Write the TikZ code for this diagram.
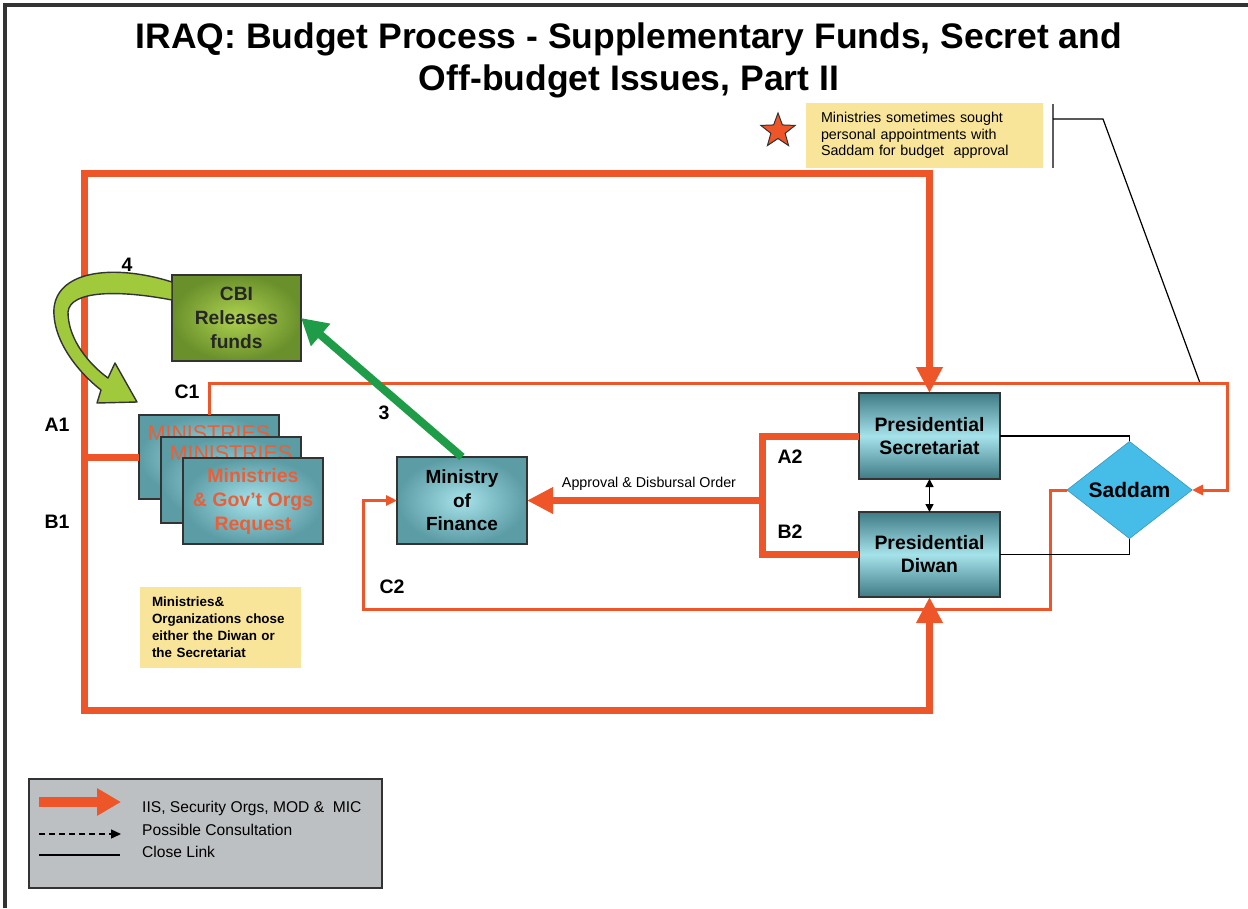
\documentclass[tikz,border=0pt]{standalone}
\usepackage{fontspec}
\setmainfont{Liberation Sans}
\usetikzlibrary{arrows.meta,shapes.geometric}
\definecolor{org}{HTML}{EE5528}
\definecolor{orgtxt}{HTML}{E8603A}
\definecolor{grn}{HTML}{1F9C48}
\definecolor{notey}{HTML}{F8E59A}
\definecolor{tealL}{HTML}{A6E2EA}
\definecolor{tealD}{HTML}{3F7B85}
\definecolor{tealM}{HTML}{5C9CA5}
\definecolor{cyanD}{HTML}{45BDE8}
\definecolor{legg}{HTML}{BDC0C2}
\definecolor{framec}{HTML}{333333}
\definecolor{cbiL}{HTML}{AED24F}
\definecolor{cbiD}{HTML}{6A902C}
\definecolor{curvg}{HTML}{A0CA3C}
\begin{document}
\begin{tikzpicture}[x=1pt,y=-1pt,
  box/.style={draw=framec, line width=1.2pt, inner sep=0pt, outer sep=0pt, align=center},
  tealbox/.style={box, inner color=tealL, outer color=tealM},
  presbox/.style={box, top color=tealD, bottom color=tealD, middle color=tealL,
     minimum width=141pt, minimum height=86pt, font=\bfseries\fontsize{19.4}{23}\selectfont},
  minbox/.style={tealbox, minimum width=140pt, minimum height=86pt},
  thickorg/.style={draw=org, line width=7pt},
  thinorg/.style={draw=org, line width=3pt},
  bigtip/.style={-{Triangle[length=26pt,width=25pt]}},
  smalltip/.style={-{Triangle[length=11pt,width=10pt]}},
  closelink/.style={draw=black, line width=1.2pt},
  lbl/.style={font=\bfseries\fontsize{19.5}{22}\selectfont, inner sep=0pt},
  legtxt/.style={font=\fontsize{15.6}{19}\selectfont, anchor=west, inner sep=0pt},
  notebox/.style={fill=notey, inner sep=0pt, align=left}
]
\fill[white] (0,0) rectangle (1248,908);
\useasboundingbox (0,0) rectangle (1248,908);
% frame
\draw[framec, line width=3.5pt] (5,908) -- (5,5) -- (1248,5);

% title
\node[font=\bfseries\fontsize{35.5}{42}\selectfont, align=center, inner sep=0pt] (title) at (629,60)
  {IRAQ: Budget Process - Supplementary Funds, Secret and\\Off-budget Issues, Part II};

% star and note
\node[star, star points=5, star point ratio=2.4, fill=org, draw=framec, line width=1pt,
  minimum size=36pt, inner sep=0pt] (star) at (778,131) {};
\node[notebox, minimum width=237pt, minimum height=65pt, text width=207pt,
  font=\fontsize{14.3}{16.5}\selectfont] (note1) at (924.5,135.5)
  {Ministries sometimes sought\\personal appointments with\\Saddam for budget\ \ approval};
\coordinate (brT) at (1053,104);
\coordinate (brB) at (1053,168);
\coordinate (brM) at (1053,119);
\coordinate (brK) at (1103,119);
\coordinate (brE) at (1200,383);
\draw[draw=framec!80, line width=2pt] (brT) -- (brB);
\draw[closelink] (brM) -- (brK) -- (brE);

% nodes
\node[box, minimum width=129pt, minimum height=86pt, inner color=cbiL, outer color=cbiD,
  font=\bfseries\fontsize{19.2}{24}\selectfont, text=black!85] (cbi) at (236.5,318) {CBI\\Releases\\funds};
\node[minbox, minimum height=84pt] (m1) at (209,457) {};
\node[font=\fontsize{21.4}{24}\selectfont, text=orgtxt, inner sep=0pt] (m1t) at (209,433) {MINISTRIES};
\node[minbox] (m2) at (231,480) {};
\node[font=\fontsize{21.4}{24}\selectfont, text=orgtxt, inner sep=0pt] (m2t) at (231,453) {MINISTRIES};
\node[minbox, font=\bfseries\fontsize{19.5}{24}\selectfont, text=orgtxt] (m3) at (253,501)
  {Ministries\\\& Gov't Orgs\\Request};
\node[tealbox, minimum width=130pt, minimum height=87pt, font=\bfseries\fontsize{19}{23.5}\selectfont]
  (mof) at (462,500.5) {Ministry\\of\\Finance};
\node[presbox] (sec) at (929.5,436) {Presidential\\Secretariat};
\node[presbox, minimum height=85pt] (diw) at (929.5,554.5) {Presidential\\Diwan};
\node[diamond, fill=cyanD, draw=cyanD!80!black, line width=0.6pt, minimum width=125pt, minimum height=89pt,
  inner sep=0pt, outer sep=0pt, font=\bfseries\fontsize{21}{24}\selectfont] (sad) at (1129.5,490) {Saddam};

\node[notebox, minimum width=161pt, minimum height=81pt, text width=137pt,
  font=\bfseries\fontsize{13.4}{17}\selectfont] (note2) at (220.5,627.5)
  {Ministries\&\\Organizations chose\\either the Diwan or\\the Secretariat};

% thick orange routes A1 / B1
\coordinate (jA) at (84,457);
\coordinate (jT) at (84,173);
\coordinate (jD) at (84,710);
\draw[thickorg, bigtip] (m1.west) -- (jA) -- (jT) -| (sec.north);
\draw[thickorg, bigtip] (m1.west) -- (jA) -- (jD) -| (diw.south);

% A2 / B2 to Ministry of Finance
\coordinate (jS) at (762,436);
\coordinate (jW) at (762,554.5);
\coordinate (jB) at (762,500.5);
\draw[thickorg] (sec.west) -- (jS) -- (jW) -- (diw.west);
\draw[thickorg, bigtip] (jB) -- (mof.east);
\node[font=\fontsize{14.3}{16}\selectfont, inner sep=0pt] (apl) at (649,484) {Approval \& Disbursal Order};

% C1 / C2
\coordinate (c1a) at (209,383);
\coordinate (c1b) at (1227,383);
\draw[thinorg, smalltip] (m1.north) -- (c1a) -- (c1b) |- (sad.east);
\coordinate (c2a) at (1050,490);
\coordinate (c2b) at (1050,609);
\coordinate (c2c) at (363,609);
\draw[thinorg, smalltip] (sad.west) -- (c2a) -- (c2b) -- (c2c) |- (mof.west);

% close links
\draw[closelink] (sec.east) -| (sad.north);
\draw[closelink] (diw.east) -| (sad.south);
\draw[line width=1.5pt, {Triangle[length=8pt,width=8pt]}-{Triangle[length=8pt,width=8pt]}] (sec.south) -- (diw.north);

% green arrow 3
\draw[grn, line width=8pt, -{Triangle[length=26pt,width=28pt]}] (mof.north) -- (cbi.east);

% curved arrow 4
\filldraw[fill=curvg, draw=framec, line width=1.4pt, line join=round]
  (172,282) .. controls (115,264) and (58,270) .. (54,308)
  .. controls (52,340) and (78,372) .. (101,390)
  -- (97,403) -- (137,402) -- (115,363) -- (108,378)
  .. controls (90,365) and (68,340) .. (68,312)
  .. controls (70,290) and (120,290) .. (172,300) -- cycle;

% labels
\node[lbl] (l4) at (127,265) {4};
\node[lbl] (l3) at (384,413) {3};
\node[lbl] (lC1) at (187,392) {C1};
\node[lbl] (lC2) at (392,587) {C2};
\node[lbl] (lA1) at (57,425) {A1};
\node[lbl] (lB1) at (57,522) {B1};
\node[lbl] (lA2) at (790,457) {A2};
\node[lbl] (lB2) at (790,532) {B2};

% legend
\node[fill=legg, draw=framec, line width=1.5pt, minimum width=353pt, minimum height=109pt, inner sep=0pt] (leg) at (205.5,833.5) {};
\coordinate (g1a) at (39,802);
\coordinate (g1b) at (121,802);
\coordinate (g2a) at (39,834);
\coordinate (g2b) at (121,834);
\coordinate (g3a) at (39,855);
\coordinate (g3b) at (120,855);
\draw[org, line width=10pt, -{Triangle[length=24pt,width=26pt]}] (g1a) -- (g1b);
\draw[black, line width=1.4pt, dash pattern=on 6pt off 4pt, -{Triangle[length=10pt,width=9pt]}] (g2a) -- (g2b);
\draw[black, line width=1.2pt] (g3a) -- (g3b);
\node[legtxt] (t1) at (142,808) {IIS, Security Orgs, MOD \&\ \ MIC};
\node[legtxt] (t2) at (142,830) {Possible Consultation};
\node[legtxt] (t3) at (142,852) {Close Link};
\end{tikzpicture}
\end{document}
